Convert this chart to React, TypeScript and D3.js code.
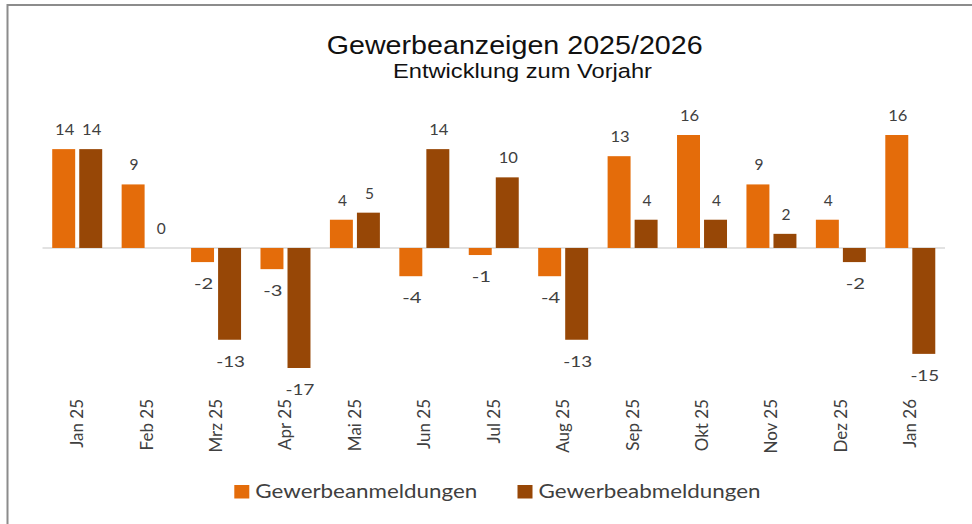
import React from "react";
import * as d3 from "d3";

const categories = ["Jan 25", "Feb 25", "Mrz 25", "Apr 25", "Mai 25", "Jun 25", "Jul 25", "Aug 25", "Sep 25", "Okt 25", "Nov 25", "Dez 25", "Jan 26"];
const anmeldungen = [14, 9, -2, -3, 4, -4, -1, -4, 13, 16, 9, 4, 16];
const abmeldungen = [14, 0, -13, -17, 5, 14, 10, -13, 4, 4, 2, -2, -15];
const seriesNames = ["Gewerbeanmeldungen", "Gewerbeabmeldungen"];
const seriesColors = ["#E46C0A", "#974706"];
const title = "Gewerbeanzeigen 2025/2026";
const subtitle = "Entwicklung zum Vorjahr";

const W = 972;
const H = 524;

export default function App() {
  const series = [anmeldungen, abmeldungen];
  const all = [...anmeldungen, ...abmeldungen];
  const y = d3.scaleLinear().domain([d3.min(all)!, d3.max(all)!]).range([368, 135]);
  const x0 = d3.scaleBand<string>().domain(categories).range([42.5, 945]).paddingInner(0.28).paddingOuter(0.14);
  const x1 = d3.scaleBand<string>().domain(seriesNames).range([0, x0.bandwidth()]).paddingInner(0.15);
  const y0 = y(0);
  const lab = "#404040";
  const sans = "Lato, 'Noto Sans', sans-serif";

  return (
    <svg width={W} height={H} style={{ position: "absolute", left: 0, top: 0, display: "block", background: "#fff" }}>
      <rect x={7.5} y={5} width={W + 20} height={H + 20} fill="#fff" stroke="#8c8c8c" strokeWidth={2} />
      <text x={326.7} y={54} fontFamily="'Liberation Sans', Arial, sans-serif" fontSize={26.5} fill="#111" textLength={376} lengthAdjust="spacingAndGlyphs">{title}</text>
      <text x={393} y={77.5} fontFamily="'Liberation Sans', Arial, sans-serif" fontSize={20.5} fill="#111" textLength={259} lengthAdjust="spacingAndGlyphs">{subtitle}</text>

      <line x1={42.5} x2={945} y1={y0} y2={y0} stroke="#D9D9D9" strokeWidth={1.5} />

      {categories.map((c, i) => (
        <g key={c} transform={`translate(${x0(c)},0)`}>
          {series.map((s, k) => {
            const v = s[i];
            const bx = x1(seriesNames[k])!;
            const bw = x1.bandwidth();
            const top = Math.min(y(v), y0);
            const h = Math.abs(y(v) - y0);
            const ly = v >= 0 ? y(v) - 14 : y(v) + 27;
            return (
              <g key={k}>
                {h > 0 && <rect x={bx} y={top} width={bw} height={h} fill={seriesColors[k]} />}
                <text x={bx + bw / 2 + 1} y={ly} textAnchor="middle" fontFamily={sans} fontSize={15.5} fill={lab} textLength={String(v).length > 1 ? String(v).length * 9.6 : undefined} lengthAdjust="spacingAndGlyphs">{v}</text>
              </g>
            );
          })}
        </g>
      ))}

      {categories.map((c) => {
        const cx = x0(c)! + x0.bandwidth() / 2 + 6;
        return (
          <text key={c} transform={`translate(${cx},399) rotate(-90)`} textAnchor="end" fontFamily={sans} fontSize={17} fill={lab}>{c}</text>
        );
      })}

      {seriesNames.map((n, k) => {
        const sx = k === 0 ? 234.3 : 517.5;
        return (
          <g key={n}>
            <rect x={sx} y={485} width={15} height={13.5} fill={seriesColors[k]} />
            <text x={sx + 21} y={498} fontFamily={sans} fontSize={19.5} fill={lab} textLength={222} lengthAdjust="spacingAndGlyphs">{n}</text>
          </g>
        );
      })}
    </svg>
  );
}
